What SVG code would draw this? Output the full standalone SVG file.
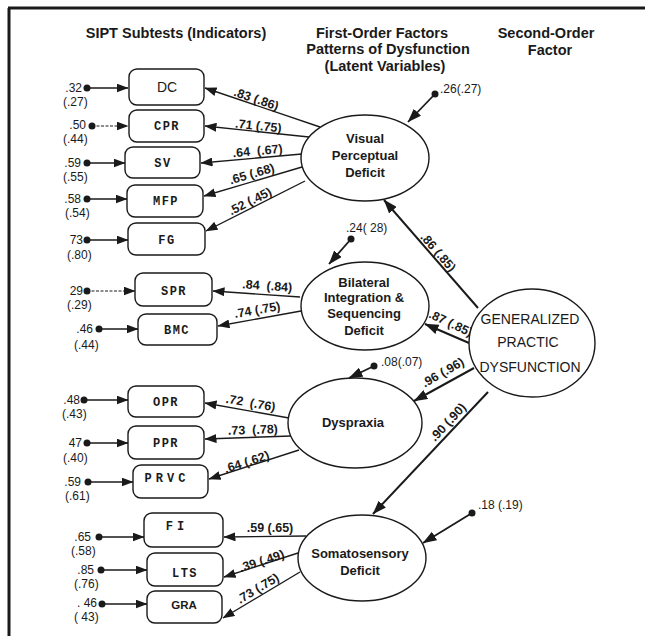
<svg xmlns="http://www.w3.org/2000/svg" width="645" height="636" viewBox="0 0 645 636">
<defs>
<style>
.sans{font-family:"Liberation Sans",Arial,sans-serif;fill:#1a1a1a}
.hdr{font-size:14.5px;font-weight:bold;text-anchor:middle}
.lat{font-size:13px;font-weight:bold;text-anchor:middle}
.gpd{font-size:14px;text-anchor:middle}
.coef{font-size:12.5px;font-weight:bold;text-anchor:middle}
.err{font-size:12px}
.mono{font-family:"Liberation Mono","Courier New",monospace;font-size:12px;font-weight:bold;text-anchor:middle;letter-spacing:1.5px;fill:#1a1a1a}
.box{fill:#fff;stroke:#1a1a1a;stroke-width:1.4}
.ell{fill:#fff;stroke:#1a1a1a;stroke-width:1.4}
.ln{stroke:#1a1a1a;stroke-width:1.4;fill:none;marker-end:url(#ah)}
.ln2{stroke:#1a1a1a;stroke-width:2;fill:none;marker-end:url(#ah2)}
.dot{fill:#1a1a1a}
</style>
<marker id="ah" viewBox="0 0 12 9" refX="11.5" refY="4.5" markerWidth="12" markerHeight="9" markerUnits="userSpaceOnUse" orient="auto"><path d="M0,0 L12,4.5 L0,9 Z" fill="#1a1a1a"/></marker>
<marker id="ah2" viewBox="0 0 14 10" refX="13.5" refY="5" markerWidth="14" markerHeight="10" markerUnits="userSpaceOnUse" orient="auto"><path d="M0,0 L14,5 L0,10 Z" fill="#1a1a1a"/></marker>
</defs>
<rect width="645" height="636" fill="#fff"/>
<!-- frame -->
<path d="M8,8 H645 M9,8 V636" stroke="#1a1a1a" stroke-width="3" fill="none"/>

<!-- headers -->
<g id="headers" class="sans hdr">
<text x="176" y="38">SIPT Subtests (Indicators)</text>
<text x="382" y="38">First-Order Factors</text>
<text x="388" y="54">Patterns of Dysfunction</text>
<text x="385" y="71">(Latent Variables)</text>
<text x="546" y="38">Second-Order</text>
<text x="550" y="55">Factor</text>
</g>

<!-- connectors -->
<g id="connectors">
<!-- indicator error arrows -->
<line class="ln" x1="87" y1="88" x2="128" y2="88"/>
<line class="ln" x1="92" y1="126" x2="128" y2="126" stroke-dasharray="3,1.5" style="stroke-width:1"/>
<line class="ln" x1="87" y1="163" x2="125" y2="163"/>
<line class="ln" x1="87" y1="199" x2="127" y2="199"/>
<line class="ln" x1="87" y1="240" x2="128" y2="240"/>
<line class="ln" x1="87" y1="291" x2="135" y2="291" stroke-dasharray="3,1.5" style="stroke-width:1"/>
<line class="ln" x1="99" y1="329" x2="138" y2="329"/>
<line class="ln" x1="84" y1="400" x2="128" y2="400"/>
<line class="ln" x1="87" y1="443" x2="128" y2="443"/>
<line class="ln" x1="88" y1="482" x2="133" y2="482"/>
<line class="ln" x1="99" y1="537" x2="144" y2="537"/>
<line class="ln" x1="101" y1="570" x2="147" y2="570"/>
<line class="ln" x1="102" y1="604" x2="147" y2="604"/>
<!-- loadings -->
<line class="ln" x1="320" y1="127" x2="205" y2="88"/>
<line class="ln" x1="309" y1="137" x2="205" y2="126"/>
<line class="ln" x1="302" y1="154" x2="201" y2="163"/>
<line class="ln" x1="302" y1="167" x2="204" y2="196"/>
<line class="ln" x1="305" y1="181" x2="206" y2="231"/>
<line class="ln" x1="300" y1="297" x2="213" y2="291"/>
<line class="ln" x1="301" y1="311" x2="218" y2="326"/>
<line class="ln" x1="289" y1="418" x2="205" y2="403"/>
<line class="ln" x1="291" y1="436" x2="205" y2="439"/>
<line class="ln" x1="299" y1="450" x2="209" y2="479"/>
<line class="ln" x1="306" y1="536" x2="224" y2="537"/>
<line class="ln" x1="298" y1="553" x2="224" y2="577"/>
<line class="ln" x1="300" y1="572" x2="223" y2="618"/>
<!-- second-order -->
<line class="ln2" x1="478" y1="308" x2="384" y2="200"/>
<line class="ln2" x1="469" y1="343" x2="425" y2="324"/>
<line class="ln2" x1="474" y1="368" x2="414" y2="401"/>
<line class="ln2" x1="488" y1="392" x2="373" y2="514"/>
<!-- latent disturbances -->
<line class="ln2" x1="435" y1="94" x2="408" y2="122" style="stroke-width:1.8"/>
<line class="ln2" x1="351" y1="239" x2="329" y2="264" style="stroke-width:1.8"/>
<line class="ln2" x1="374" y1="366" x2="349" y2="378" style="stroke-width:1.8"/>
<line class="ln2" x1="472" y1="513" x2="423" y2="543" style="stroke-width:1.8"/>
<!-- dots -->
<g class="dot">
<circle cx="87" cy="88" r="3.5"/><circle cx="92" cy="126" r="3.5"/><circle cx="87" cy="163" r="3.5"/>
<circle cx="87" cy="199" r="3.5"/><circle cx="87" cy="240" r="3.5"/><circle cx="87" cy="291" r="3.5"/>
<circle cx="99" cy="329" r="3.5"/><circle cx="84" cy="400" r="3.5"/><circle cx="87" cy="443" r="3.5"/>
<circle cx="88" cy="482" r="3.5"/><circle cx="99" cy="537" r="3.5"/><circle cx="101" cy="570" r="3.5"/>
<circle cx="102" cy="604" r="3.5"/>
<circle cx="435" cy="94" r="3.5"/><circle cx="351" cy="239" r="3.5"/><circle cx="374" cy="366" r="3.5"/><circle cx="472" cy="513" r="3.5"/>
</g>
<!-- coefficient labels -->
<g class="sans coef">
<text transform="translate(255,103) rotate(18.7)">.83 (.86)</text>
<text transform="translate(258,130) rotate(6)">.71 (.75)</text>
<text transform="translate(258,155) rotate(-5)">.64 &#160;(.67)</text>
<text transform="translate(253,178) rotate(-16.3)">.65 (.68)</text>
<text transform="translate(252,205) rotate(-26.8)">.52 (.45)</text>
<text transform="translate(267,290) rotate(3.9)">.84 &#160;(.84)</text>
<text transform="translate(258,314) rotate(-10)">.74 (.75)</text>
<text transform="translate(250,407) rotate(10)">.72 &#160;(.76)</text>
<text transform="translate(253,434) rotate(-2)">.73 &#160;(.78)</text>
<text transform="translate(248,466) rotate(-18)">.64 (.62)</text>
<text transform="translate(270,532)">.59 (.65)</text>
<text transform="translate(263,565) rotate(-18)">.39 (.49)</text>
<text transform="translate(260,592) rotate(-31)">.73 (.75)</text>
<text transform="translate(435,255) rotate(49)">.86 (.85)</text>
<text transform="translate(449,327) rotate(25)">.87 (.85)</text>
<text transform="translate(445,376) rotate(-30)">.96 (.96)</text>
<text transform="translate(451,425) rotate(-47)">.90 (.90)</text>
</g>
<!-- error labels -->
<g class="sans err">
<text x="82" y="92" text-anchor="end">.32</text><text x="63" y="106">(.27)</text>
<text x="86" y="129" text-anchor="end">.50</text><text x="63" y="143">(.44)</text>
<text x="81" y="167" text-anchor="end">.59</text><text x="63" y="181">(.55)</text>
<text x="81" y="203" text-anchor="end">.58</text><text x="65" y="217">(.54)</text>
<text x="83" y="244" text-anchor="end">73</text><text x="67" y="259">(.80)</text>
<text x="83" y="295" text-anchor="end">29</text><text x="67" y="309">(.29)</text>
<text x="93" y="333" text-anchor="end">.46</text><text x="74" y="349">(.44)</text>
<text x="80" y="404" text-anchor="end">.48</text><text x="62" y="418">(.43)</text>
<text x="82" y="447" text-anchor="end">47</text><text x="63" y="462">(.40)</text>
<text x="81" y="486" text-anchor="end">.59</text><text x="65" y="500">(.61)</text>
<text x="91" y="541" text-anchor="end">.65</text><text x="71" y="555">(.58)</text>
<text x="94" y="574" text-anchor="end">.85</text><text x="74" y="588">(.76)</text>
<text x="97" y="607" text-anchor="end">. 46</text><text x="74" y="621">( 43)</text>
<text x="440" y="93">.26(.27)</text>
<text x="346" y="232">.24( 28)</text>
<text x="381" y="366">.08(.07)</text>
<text x="478" y="509">.18 (.19)</text>
</g>
</g>

<!-- indicator nodes -->
<g id="DC"><rect class="box" x="129" y="69" width="75" height="36" rx="8"/><text class="sans" x="167" y="92" font-size="14" text-anchor="middle">DC</text></g>
<g id="CPR"><rect class="box" x="129" y="110" width="75" height="32" rx="8"/><text class="mono" x="167" y="130">CPR</text></g>
<g id="SV"><rect class="box" x="125" y="147" width="75" height="31" rx="8"/><text class="mono" x="163" y="167">SV</text></g>
<g id="MFP"><rect class="box" x="127" y="185" width="76" height="32" rx="8"/><text class="mono" x="166" y="205">MFP</text></g>
<g id="FG"><rect class="box" x="128" y="223" width="77" height="32" rx="8"/><text class="mono" x="167" y="244">FG</text></g>
<g id="SPR"><rect class="box" x="135" y="273" width="77" height="33" rx="8"/><text class="mono" x="174" y="295">SPR</text></g>
<g id="BMC"><rect class="box" x="138" y="314" width="79" height="31" rx="8"/><text class="mono" x="177" y="334">BMC</text></g>
<g id="OPR"><rect class="box" x="128" y="386" width="76" height="31" rx="8"/><text class="mono" x="166" y="406">OPR</text></g>
<g id="PPR"><rect class="box" x="128" y="426" width="76" height="33" rx="8"/><text class="mono" x="166" y="447">PPR</text></g>
<g id="PRVC"><rect class="box" x="133" y="465" width="75" height="33" rx="8"/><text class="mono" x="167" y="482" style="letter-spacing:4px">PRVC</text></g>
<g id="FI"><rect class="box" x="144" y="513" width="79" height="34" rx="8"/><text class="mono" x="177" y="530" style="letter-spacing:4px">FI</text></g>
<g id="LTS"><rect class="box" x="147" y="553" width="76" height="33" rx="8"/><text class="mono" x="185" y="577">LTS</text></g>
<g id="GRA"><rect class="box" x="147" y="591" width="75" height="32" rx="8"/><text class="sans" x="184" y="609" font-size="11.5" font-weight="bold" text-anchor="middle">GRA</text></g>

<!-- latent nodes -->
<g id="VPD"><ellipse class="ell" cx="365" cy="158" rx="64" ry="43"/>
<text class="sans lat" x="365" y="143">Visual</text><text class="sans lat" x="365" y="160">Perceptual</text><text class="sans lat" x="365" y="177">Deficit</text></g>
<g id="BIS"><ellipse class="ell" cx="365" cy="306" rx="64" ry="44"/>
<text class="sans lat" x="364" y="287">Bilateral</text><text class="sans lat" x="364" y="302">Integration &amp;</text><text class="sans lat" x="364" y="318">Sequencing</text><text class="sans lat" x="364" y="335">Deficit</text></g>
<g id="DYS"><ellipse class="ell" cx="355" cy="423" rx="67" ry="45"/>
<text class="sans lat" x="353" y="427">Dyspraxia</text></g>
<g id="SOM"><ellipse class="ell" cx="362" cy="558" rx="64" ry="43"/>
<text class="sans lat" x="360" y="558">Somatosensory</text><text class="sans lat" x="360" y="575">Deficit</text></g>
<g id="GPD"><ellipse class="ell" cx="532" cy="343" rx="63" ry="54"/>
<text class="sans gpd" x="530" y="324">GENERALIZED</text><text class="sans gpd" x="528" y="347">PRACTIC</text><text class="sans gpd" x="530" y="372">DYSFUNCTION</text></g>
</svg>
